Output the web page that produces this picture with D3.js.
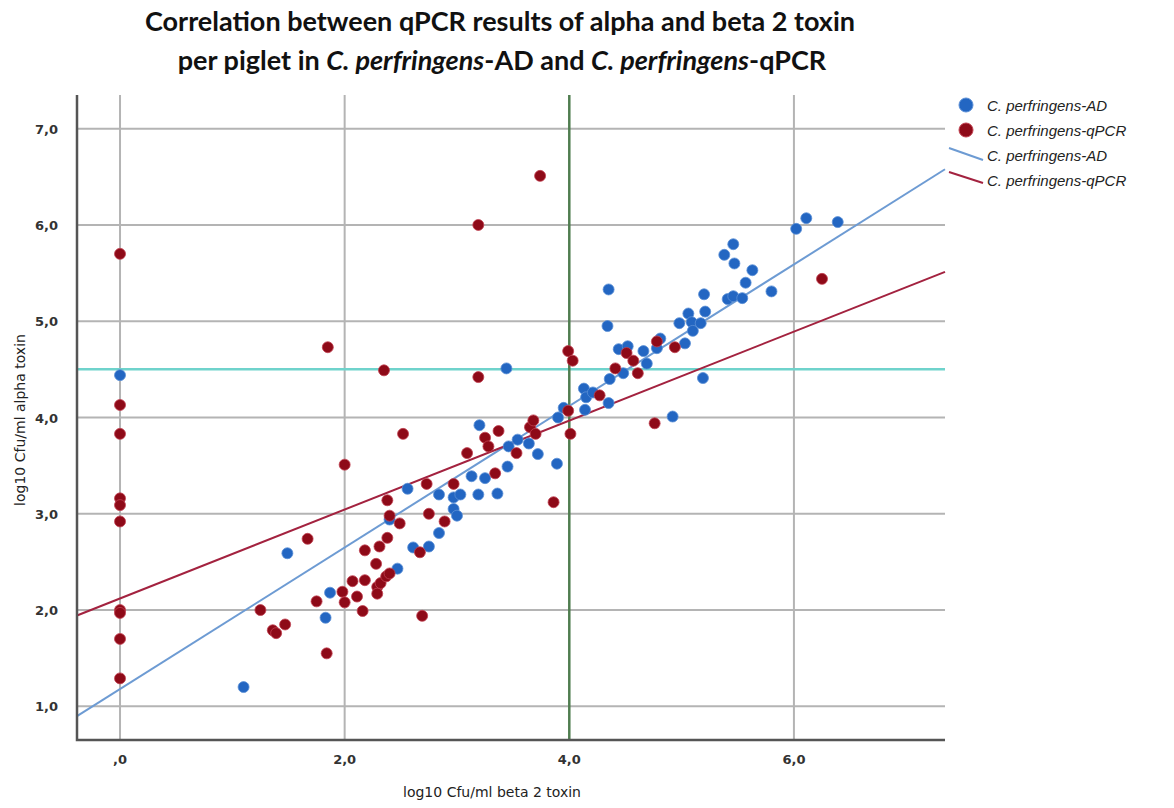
<!DOCTYPE html>
<html>
<head>
<title>Correlation alpha / beta 2 toxin</title>
<script src="https://d3js.org/d3.v7.min.js"></script>
<style>
  body { margin: 0; background: #fff; }
  .title { font-family: Lato, "Open Sans", sans-serif; font-weight: bold; font-size: 27px; fill: #111; }
  .tick-label { font-family: "DejaVu Sans", sans-serif; font-size: 13px; font-weight: bold; fill: #333; }
  .axis-title { font-family: "DejaVu Sans", sans-serif; font-size: 14px; fill: #222; }
  .legend-text { font-family: "Liberation Sans", sans-serif; font-style: italic; font-size: 15px; fill: #222; }
</style>
</head>
<body>
<svg width="1174" height="808"></svg>
<script>
// x = log10 beta 2 toxin, y = log10 alpha toxin
const adX = [0, 1.10, 1.49, 1.83, 1.87, 2.40, 2.47, 2.56, 2.61, 2.75, 2.84, 2.84, 2.97, 2.97, 3.00, 3.03,
  3.13, 3.19, 3.20, 3.25, 3.36, 3.44, 3.45, 3.46, 3.54, 3.64, 3.72, 3.89, 3.90, 3.95, 4.13, 4.14, 4.15,
  4.21, 4.34, 4.35, 4.35, 4.36, 4.44, 4.48, 4.52, 4.66, 4.69, 4.78, 4.81, 4.92, 4.98, 5.03, 5.06, 5.09,
  5.10, 5.17, 5.19, 5.20, 5.21, 5.38, 5.41, 5.46, 5.47, 5.46, 5.54, 5.57, 5.63, 5.80, 6.02, 6.11, 6.39];
const adY = [4.44, 1.20, 2.59, 1.92, 2.18, 2.94, 2.43, 3.26, 2.65, 2.66, 2.80, 3.20, 3.17, 3.05, 2.98, 3.20,
  3.39, 3.20, 3.92, 3.37, 3.21, 4.51, 3.49, 3.70, 3.77, 3.73, 3.62, 3.52, 4.00, 4.10, 4.30, 4.08, 4.21,
  4.26, 4.95, 5.33, 4.15, 4.40, 4.71, 4.46, 4.74, 4.69, 4.56, 4.72, 4.82, 4.01, 4.98, 4.77, 5.08, 4.99,
  4.90, 4.98, 4.41, 5.28, 5.10, 5.69, 5.23, 5.80, 5.60, 5.26, 5.24, 5.40, 5.53, 5.31, 5.96, 6.07, 6.03];

const qpcrX = [0, 0, 0, 0, 0, 0, 0, 0, 0, 0, 1.25, 1.36, 1.39, 1.47, 1.67, 1.75, 1.84, 1.85, 1.98, 2.00,
  2.00, 2.07, 2.11, 2.16, 2.18, 2.18, 2.28, 2.29, 2.29, 2.31, 2.32, 2.35, 2.37, 2.38, 2.38, 2.40, 2.40,
  2.49, 2.52, 2.67, 2.69, 2.73, 2.75, 2.89, 2.97, 3.09, 3.19, 3.19, 3.25, 3.28, 3.34, 3.37, 3.53, 3.65,
  3.68, 3.70, 3.74, 3.86, 3.99, 4.01, 3.99, 4.03, 4.27, 4.41, 4.51, 4.57, 4.61, 4.76, 4.78, 4.94, 6.25];
const qpcrY = [5.70, 4.13, 3.83, 3.16, 3.09, 2.92, 2.00, 1.97, 1.70, 1.29, 2.00, 1.79, 1.76, 1.85, 2.74,
  2.09, 1.55, 4.73, 2.19, 2.08, 3.51, 2.30, 2.14, 1.99, 2.31, 2.62, 2.48, 2.24, 2.17, 2.66, 2.28, 4.49,
  2.35, 2.75, 3.14, 2.38, 2.98, 2.90, 3.83, 2.60, 1.94, 3.31, 3.00, 2.92, 3.31, 3.63, 4.42, 6.00, 3.79,
  3.70, 3.42, 3.86, 3.63, 3.90, 3.97, 3.83, 6.51, 3.12, 4.07, 3.83, 4.69, 4.59, 4.23, 4.51, 4.67, 4.59,
  4.46, 3.94, 4.79, 4.73, 5.44];

// fit lines: [intercept, slope]
const fitAD = [1.18, 0.735];
const fitQPCR = [2.12, 0.462];

const xTicks = [0, 2, 4, 6];
const xTickLabels = [",0", "2,0", "4,0", "6,0"];
const yTicks = [1, 2, 3, 4, 5, 6, 7];
const yTickLabels = ["1,0", "2,0", "3,0", "4,0", "5,0", "6,0", "7,0"];
const refX = 4;
const refY = 4.5;
const legendLabels = ["C. perfringens-AD", "C. perfringens-qPCR", "C. perfringens-AD", "C. perfringens-qPCR"];

const colAD = "#2366c2", colQ = "#8e0a18";
const lineAD = "#6d9bd3", lineQ = "#a3223f";

const svg = d3.select("svg");
const plotL = 77, plotR = 945, plotT = 95, plotB = 740;

const x = d3.scaleLinear().domain([-0.383, 7.345]).range([plotL, plotR]);
const y = d3.scaleLinear().domain([0.65, 7.35]).range([plotB, plotT]);

// title
const title = svg.append("text").attr("class", "title").attr("text-anchor", "middle");
title.append("tspan").attr("x", 500).attr("y", 31)
  .text("Correlation between qPCR results of alpha and beta 2 toxin");
const t2 = title.append("tspan").attr("x", 502).attr("y", 70);
t2.append("tspan").text("per piglet in ");
t2.append("tspan").attr("font-style", "italic").text("C. perfringens");
t2.append("tspan").text("-AD and ");
t2.append("tspan").attr("font-style", "italic").text("C. perfringens");
t2.append("tspan").text("-qPCR");

// grid
const grid = svg.append("g").attr("stroke", "#b4b4b4").attr("stroke-width", 2);
grid.selectAll("line.h").data(yTicks).enter().append("line")
  .attr("x1", plotL).attr("x2", plotR).attr("y1", d => y(d)).attr("y2", d => y(d));
grid.selectAll("line.v").data(xTicks.filter(d => d !== refX)).enter().append("line")
  .attr("y1", plotT).attr("y2", plotB).attr("x1", d => x(d)).attr("x2", d => x(d));

// reference lines
svg.append("line").attr("x1", plotL).attr("x2", plotR).attr("y1", y(refY)).attr("y2", y(refY))
  .attr("stroke", "#6fd3cc").attr("stroke-width", 2.5);
svg.append("line").attr("y1", plotT).attr("y2", plotB).attr("x1", x(refX)).attr("x2", x(refX))
  .attr("stroke", "#4f7d4f").attr("stroke-width", 2.5);

// fit lines
const xd = x.domain();
[[fitAD, lineAD], [fitQPCR, lineQ]].forEach(([f, c]) => {
  svg.append("line")
    .attr("x1", x(xd[0])).attr("y1", y(f[0] + f[1] * xd[0]))
    .attr("x2", x(xd[1])).attr("y2", y(f[0] + f[1] * xd[1]))
    .attr("stroke", c).attr("stroke-width", 2);
});

// points
const adPts = adX.map((v, i) => [v, adY[i]]);
const qPts = qpcrX.map((v, i) => [v, qpcrY[i]]);
svg.append("g").selectAll("circle").data(adPts).enter().append("circle")
  .attr("cx", d => x(d[0])).attr("cy", d => y(d[1])).attr("r", 5.5)
  .attr("fill", colAD).attr("stroke", "#5b8fd6").attr("stroke-width", 0.8);
svg.append("g").selectAll("circle").data(qPts).enter().append("circle")
  .attr("cx", d => x(d[0])).attr("cy", d => y(d[1])).attr("r", 5.5)
  .attr("fill", colQ).attr("stroke", "#c04050").attr("stroke-width", 0.8);

// axes frame
svg.append("path").attr("d", `M${plotL},${plotT}V${plotB}H${plotR}`)
  .attr("fill", "none").attr("stroke", "#555").attr("stroke-width", 2.5);

// tick labels
svg.selectAll("text.xt").data(xTicks).enter().append("text").attr("class", "tick-label")
  .attr("x", d => x(d)).attr("y", 764).attr("text-anchor", "middle")
  .text((d, i) => xTickLabels[i]);
svg.selectAll("text.yt").data(yTicks).enter().append("text").attr("class", "tick-label")
  .attr("x", 58).attr("y", d => y(d) + 5).attr("text-anchor", "end")
  .text((d, i) => yTickLabels[i]);

// axis titles
svg.append("text").attr("class", "axis-title").attr("text-anchor", "middle")
  .attr("x", 492).attr("y", 797).text("log10 Cfu/ml beta 2 toxin");
svg.append("text").attr("class", "axis-title").attr("text-anchor", "middle")
  .attr("transform", "translate(25,420) rotate(-90)").text("log10 Cfu/ml alpha toxin");

// legend
const lg = svg.append("g");
lg.append("circle").attr("cx", 966).attr("cy", 105).attr("r", 7).attr("fill", colAD).attr("stroke", "#5b8fd6");
lg.append("circle").attr("cx", 966).attr("cy", 130).attr("r", 7).attr("fill", colQ).attr("stroke", "#c04050");
lg.append("line").attr("x1", 949).attr("y1", 148).attr("x2", 983).attr("y2", 160)
  .attr("stroke", lineAD).attr("stroke-width", 2);
lg.append("line").attr("x1", 949).attr("y1", 172).attr("x2", 983).attr("y2", 183)
  .attr("stroke", lineQ).attr("stroke-width", 2);
lg.selectAll("text").data(legendLabels).enter().append("text").attr("class", "legend-text")
  .attr("x", 987).attr("y", (d, i) => 111 + i * 25).text(d => d);
</script>
</body>
</html>
